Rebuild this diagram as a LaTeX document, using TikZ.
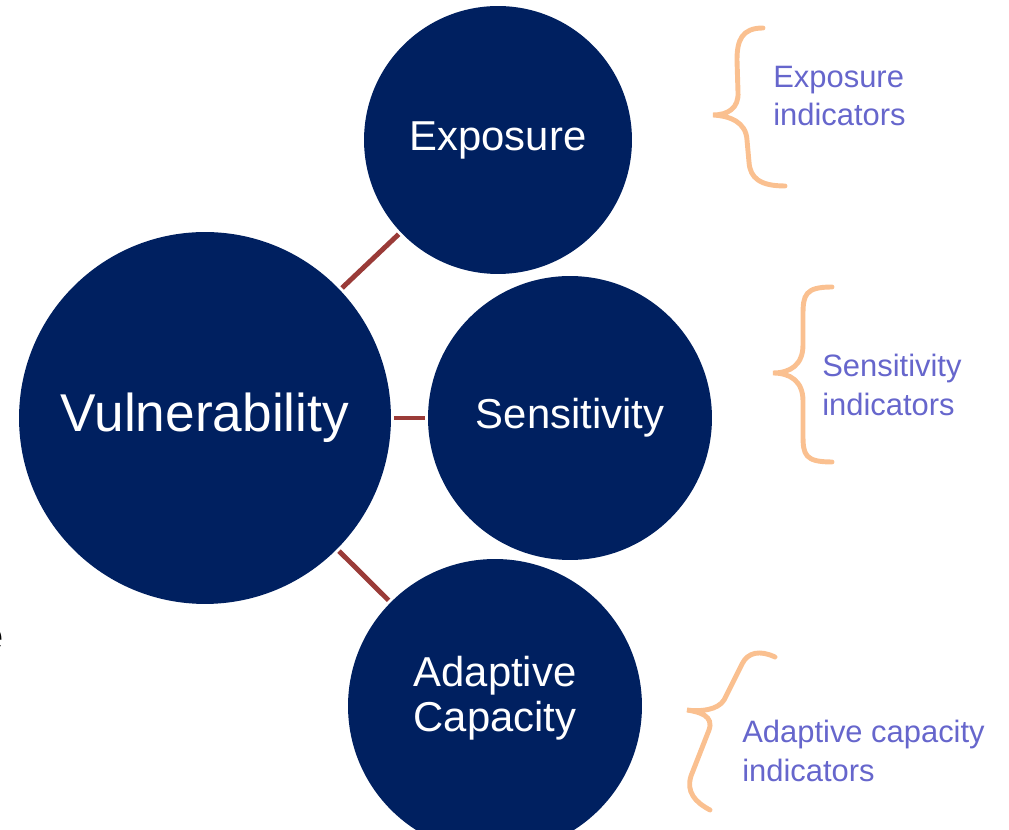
\documentclass[tikz,border=0pt]{standalone}
\usepackage{fontspec}
\setmainfont{Liberation Sans}
\usetikzlibrary{positioning}
\definecolor{navy}{HTML}{002060}
\definecolor{linkred}{HTML}{9A3B38}
\definecolor{bracepeach}{HTML}{FAC090}
\definecolor{indblue}{HTML}{6666CC}

\begin{document}
\begin{tikzpicture}[x=0.02cm, y=-0.02cm,
    factor/.style={circle, fill=navy, text=white, inner sep=0pt, outer sep=0pt, align=center, font=\fontsize{23.8}{25.5}\selectfont},
    link/.style={draw=linkred, line width=2.8pt, shorten <=1.7pt, shorten >=1.7pt},
    indicator/.style={text=indblue, align=left, anchor=west, inner sep=0pt, font=\fontsize{17.6}{21.8}\selectfont},
    curly/.style={draw=bracepeach, line width=2.8pt, line cap=round}]
    \useasboundingbox (0,0) rectangle (1009,830);

    \node [factor, minimum size=7.44cm, font=\fontsize{30.3}{32}\selectfont] (vuln) at (205,418) {Vulnerability};
    \node [factor, minimum size=5.36cm] (expo) at (498,140) {Exposure};
    \node [factor, minimum size=5.68cm] (sens) at (570,418) {Sensitivity};
    \node [factor, minimum size=5.88cm, text depth=14pt] (adap) at (495,706) {Adaptive\\Capacity};

    \draw [link] (vuln) -- (expo);
    \draw [link] (vuln) -- (sens);
    \draw [link] (vuln) -- (adap);

    \draw [curly] (763,28) .. controls (742,28) and (737,40) .. (737,60) -- (738,92)
        .. controls (739,108) and (728,115) .. (713,115)
        .. controls (730,116) and (746,122) .. (747,140) -- (749,162)
        .. controls (750,178) and (760,186) .. (785,186);
    \draw [curly] (832,287) .. controls (805,287) and (803,295) .. (803,315) -- (803,345)
        .. controls (803,365) and (790,373) .. (773,373)
        .. controls (790,373) and (803,381) .. (803,401) -- (803,435)
        .. controls (803,455) and (805,462) .. (832,462);
    \draw [curly] (775,657) .. controls (760,650) and (748,652) .. (742,664) -- (724,700)
        .. controls (718,710) and (700,712) .. (687,710)
        .. controls (700,712) and (714,716) .. (709,730) -- (691,776)
        .. controls (686,792) and (695,802) .. (710,810);

    \node [indicator] (expoind) at (773,96) {Exposure\\indicators};
    \node [indicator] (sensind) at (822,385) {Sensitivity\\indicators};
    \node [indicator] (adapind) at (742,751) {Adaptive capacity\\indicators};

    \node [anchor=base east, inner sep=0pt, font=\fontsize{23.8}{25.5}\selectfont] (cut) at (4,651) {e};
\end{tikzpicture}
\end{document}
